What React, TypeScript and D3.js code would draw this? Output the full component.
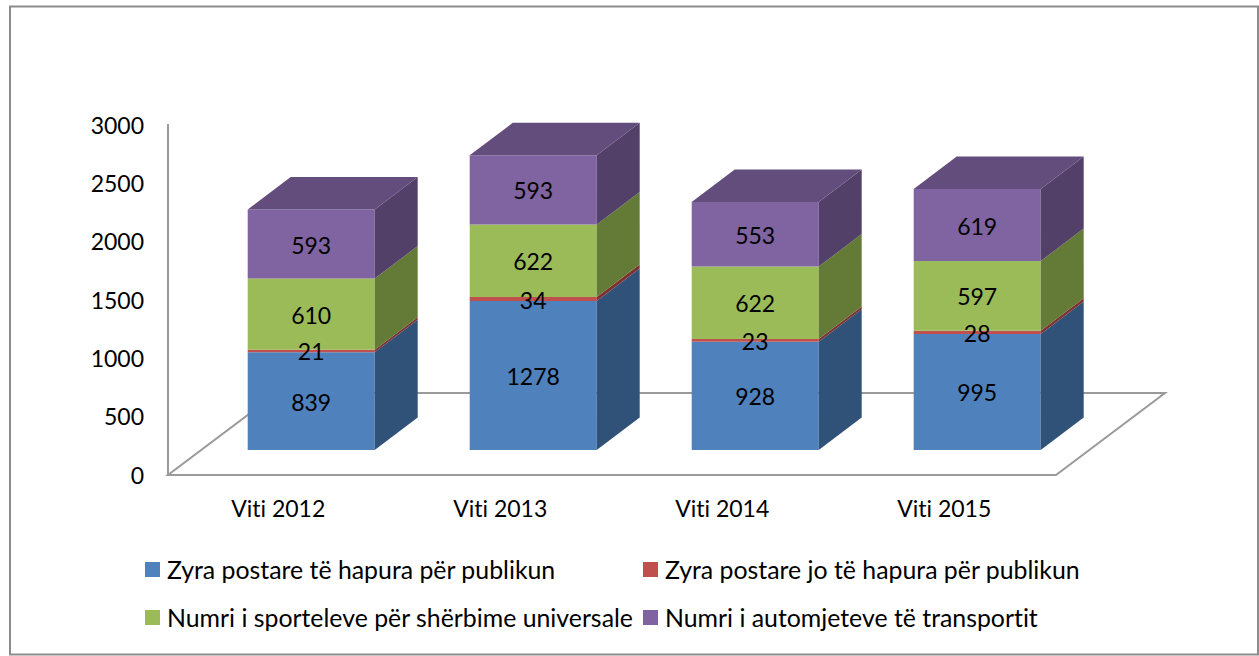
import React from "react";
import * as d3 from "d3";

const categories = ["Viti 2012", "Viti 2013", "Viti 2014", "Viti 2015"];
const seriesNames = [
  "Zyra postare të hapura për publikun",
  "Zyra postare jo të hapura për publikun",
  "Numri i sporteleve për shërbime universale",
  "Numri i automjeteve të transportit",
];
const zyraHapura = [839, 1278, 928, 995];
const zyraJoHapura = [21, 34, 23, 28];
const sportele = [610, 622, 622, 597];
const automjete = [593, 593, 553, 619];
const yTicks = [0, 500, 1000, 1500, 2000, 2500, 3000];
const frontColors = ["#4f81bd", "#c0504d", "#9bbb59", "#8064a2"];
const sideColors = ["#315278", "#7c3230", "#647a37", "#524068"];
const topColors = ["#3b6291", "#933d3b", "#769043", "#624d7c"];
const seriesValues = [zyraHapura, zyraJoHapura, sportele, automjete];

const FONT = "Lato, Carlito, sans-serif";
const DX = 43;
const DY = 32.5;
const BASE = 450;
const PX_PER_UNIT = 0.1166;

export default function App() {
  const yBar = d3.scaleLinear().domain([0, 3000]).range([BASE, BASE - 3000 * PX_PER_UNIT]);
  const yTickBase = d3.scaleLinear().domain([0, 3000]).range([483.5, 133.5]);
  const x = d3.scaleBand().domain(categories).range([200.2, 1088.2]).paddingInner(95 / 222).paddingOuter(95 / 444);
  const bw = x.bandwidth();
  const stack = categories.map((_, i) => {
    let acc = 0;
    return seriesValues.map((s) => {
      const r = [acc, acc + s[i]];
      acc += s[i];
      return r;
    });
  });
  const line = d3.line();
  const poly = (p: [number, number][]) => line(p) + "Z";
  const grey = "#9a9a9a";
  const legendRows = [
    { i: 0, sx: 145, tx: 167, y: 578.5 },
    { i: 1, sx: 643, tx: 665, y: 578.5 },
    { i: 2, sx: 145, tx: 167, y: 626.5 },
    { i: 3, sx: 643, tx: 665, y: 626.5 },
  ];
  return (
    <svg
      width={1259}
      height={656}
      style={{ position: "absolute", left: 0, top: 0, background: "#fff", fontVariantLigatures: "none" }}
      fontFamily={FONT}
    >
      <rect x={10} y={6.5} width={1248} height={648} fill="#fff" stroke="#8c8c8c" strokeWidth={2} />
      <path d={poly([[168, 475], [1056, 475], [1165, 393], [277, 393]])} fill="none" stroke={grey} strokeWidth={2} />
      <line x1={168} x2={168} y1={124} y2={475} stroke={grey} strokeWidth={2} />
      {yTicks.map((t) => (
        <text key={t} x={144} y={yTickBase(t)} textAnchor="end" fontSize={23} fill="#000">
          {t}
        </text>
      ))}
      {categories.map((c, i) => {
        const x0 = x(c)!;
        const x1 = x0 + bw;
        return (
          <g key={c}>
            {stack[i].map((r, s) => {
              const yb = yBar(r[0]);
              const yt = yBar(r[1]);
              return (
                <g key={s}>
                  <path d={poly([[x0, yb], [x1, yb], [x1, yt], [x0, yt]])} fill={frontColors[s]} />
                  <path d={poly([[x1, yb], [x1 + DX, yb - DY], [x1 + DX, yt - DY], [x1, yt]])} fill={sideColors[s]} />
                  {s === 3 && (
                    <path d={poly([[x0, yt], [x1, yt], [x1 + DX, yt - DY], [x0 + DX, yt - DY]])} fill={topColors[s]} />
                  )}
                </g>
              );
            })}
            {stack[i].map((r, s) => (
              <text
                key={s}
                x={(x0 + x1) / 2}
                y={yBar((r[0] + r[1]) / 2) + 9.5}
                textAnchor="middle"
                fontSize={23}
                fill="#000"
              >
                {seriesValues[s][i]}
              </text>
            ))}
            <text x={(x0 + x1) / 2 - 33} y={516.5} textAnchor="middle" fontSize={23} fill="#000">
              {c}
            </text>
          </g>
        );
      })}
      {legendRows.map((l) => (
        <g key={l.i}>
          <rect x={l.sx} y={l.y - 16.5} width={15} height={15} fill={frontColors[l.i]} />
          <text x={l.tx} y={l.y} fontSize={24.85} fill="#000">
            {seriesNames[l.i]}
          </text>
        </g>
      ))}
    </svg>
  );
}
